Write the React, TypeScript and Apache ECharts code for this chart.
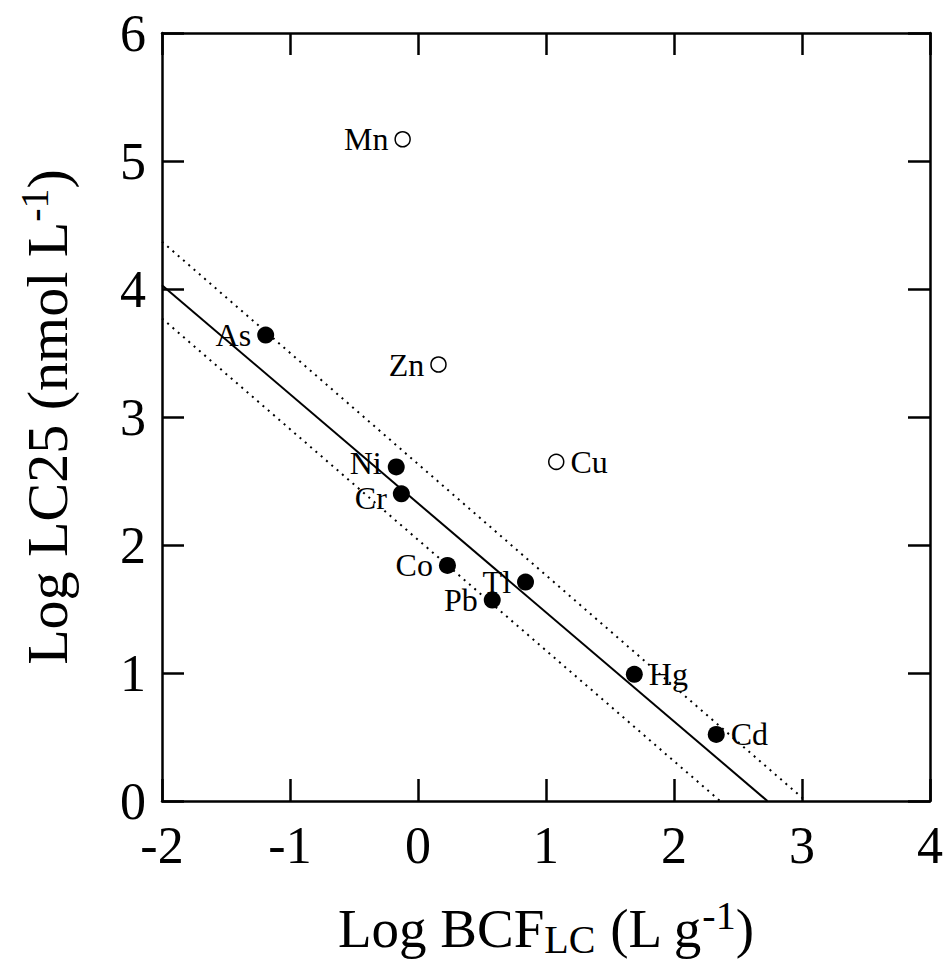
import React, { useEffect, useRef } from "react";
import * as echarts from "echarts";

const elements = ["Mn", "Zn", "Cu", "As", "Ni", "Cr", "Co", "Pb", "Tl", "Hg", "Cd"];
const logBCF = [-0.12, 0.16, 1.08, -1.19, -0.17, -0.13, 0.23, 0.58, 0.84, 1.69, 2.33];
const logLC25 = [5.17, 3.41, 2.65, 3.64, 2.61, 2.4, 1.84, 1.57, 1.71, 0.99, 0.52];
const isOpen = [true, true, true, false, false, false, false, false, false, false, false];
const labelSide = ["left", "left", "right", "left", "left", "left", "left", "left", "left", "right", "right"];

const fitLine = [[-2, 4.03], [2.73, 0]];
const upperBand = [[-2, 4.37], [3.03, 0]];
const lowerBand = [[-2, 3.77], [2.36, 0]];

const xTicks = [-2, -1, 0, 1, 2, 3, 4];
const yTicks = [0, 1, 2, 3, 4, 5, 6];

const FONT = "Liberation Serif";

export default function App() {
  const ref = useRef<HTMLDivElement>(null);
  useEffect(() => {
    document.body.style.margin = "0";
    const chart = echarts.init(ref.current!, null, { renderer: "svg" });
    const axisLineStyle = { color: "#000", width: 2.5 };
    const tickCommon = { show: true, inside: true, length: 22, lineStyle: { color: "#000", width: 2.5 } };
    const nudge: Record<string, number[]> = { Ni: [0, -4], Cr: [0, 4] };
    const mkData = (open: boolean) =>
      elements
        .map((n, i) => ({ n, i }))
        .filter(({ i }) => isOpen[i] === open)
        .map(({ n, i }) => ({
          name: n,
          value: [logBCF[i], logLC25[i]],
          label: { position: labelSide[i], offset: nudge[n] || [0, 0] },
        }));
    const labelCfg = {
      show: true,
      formatter: "{b}",
      fontFamily: FONT,
      fontSize: 32,
      lineHeight: 24,
      color: "#000",
      opacity: 1,
      distance: 6,
    };
    const common = (pos: string) => ({
      type: "value",
      interval: 1,
      position: pos,
      axisLine: { show: true, onZero: false, lineStyle: axisLineStyle },
      axisTick: tickCommon,
      splitLine: { show: false },
    });
    chart.setOption({
      animation: false,
      backgroundColor: "#fff",
      grid: { left: 162, right: 15, top: 33, bottom: 166, containLabel: false, outerBoundsMode: "none" },
      xAxis: [
        {
          ...common("bottom"),
          min: xTicks[0],
          max: xTicks[xTicks.length - 1],
          axisLabel: { fontFamily: FONT, fontSize: 52, color: "#000", margin: 18 },
          name: "Log BCF{sub|LC} (L g{sup|-1})",
          nameLocation: "middle",
          nameGap: 94,
          nameTextStyle: {
            fontFamily: FONT,
            fontSize: 55,
            color: "#000",
            rich: {
              sub: { fontFamily: FONT, fontSize: 40, color: "#000", padding: [22, 0, 0, 0] },
              sup: { fontFamily: FONT, fontSize: 40, color: "#000", padding: [0, 0, 26, 0] },
            },
          },
        },
        {
          ...common("top"),
          min: xTicks[0],
          max: xTicks[xTicks.length - 1],
          axisLabel: { show: false },
        },
      ],
      yAxis: [
        {
          ...common("left"),
          min: yTicks[0],
          max: yTicks[yTicks.length - 1],
          axisLabel: { fontFamily: FONT, fontSize: 52, color: "#000", margin: 16 },
          name: "Log LC25 (nmol L{sup|-1})",
          nameLocation: "middle",
          nameGap: 82,
          nameRotate: 90,
          nameTextStyle: {
            fontFamily: FONT,
            fontSize: 58,
            color: "#000",
            rich: {
              sup: { fontFamily: FONT, fontSize: 40, color: "#000", padding: [0, 0, 26, 0] },
            },
          },
        },
        {
          ...common("right"),
          min: yTicks[0],
          max: yTicks[yTicks.length - 1],
          axisLabel: { show: false },
        },
      ],
      series: [
        {
          type: "line",
          data: fitLine,
          symbol: "none",
          lineStyle: { color: "#000", width: 2 },
          silent: true,
        },
        {
          type: "line",
          data: upperBand,
          symbol: "none",
          lineStyle: { color: "#000", width: 2, type: [2, 5] },
          silent: true,
        },
        {
          type: "line",
          data: lowerBand,
          symbol: "none",
          lineStyle: { color: "#000", width: 2, type: [2, 5] },
          silent: true,
        },
        {
          type: "scatter",
          data: mkData(false),
          symbol: "circle",
          symbolSize: 17,
          itemStyle: { color: "#000", opacity: 1 },
          label: labelCfg,
        },
        {
          type: "scatter",
          data: mkData(true),
          symbol: "circle",
          symbolSize: 15,
          itemStyle: { color: "#fff", borderColor: "#000", borderWidth: 1.5, opacity: 1 },
          label: labelCfg,
        },
      ],
    });
    return () => chart.dispose();
  }, []);
  return <div ref={ref} style={{ width: 945, height: 967 }} />;
}
